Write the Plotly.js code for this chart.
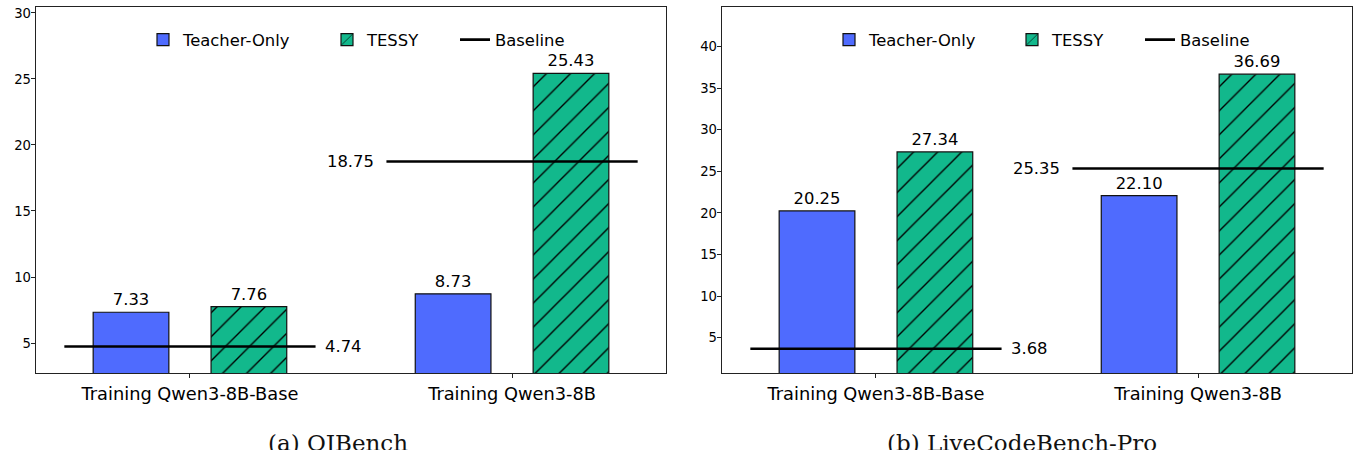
<!DOCTYPE html>
<html><head><meta charset="utf-8">
<script src="https://cdn.plot.ly/plotly-3.0.1.min.js"></script>
<style>html,body{margin:0;padding:0;background:#fff;} #chart{width:1353px;height:450px;}</style>
</head><body><div id="chart"></div>
<script>
// ---- data ----
const categories = ["Training Qwen3-8B-Base", "Training Qwen3-8B"];
const seriesNames = ["Teacher-Only", "TESSY", "Baseline"];
const panelTitles = ["(a) OJBench", "(b) LiveCodeBench-Pro"];
const ojTeacher = [7.33, 8.73];
const ojTessy = [7.76, 25.43];
const ojBaseline = [4.74, 18.75];
const lcbTeacher = [20.25, 22.10];
const lcbTessy = [27.34, 36.69];
const lcbBaseline = [3.68, 25.35];
const ojYTicks = [5, 10, 15, 20, 25, 30];
const lcbYTicks = [5, 10, 15, 20, 25, 30, 35, 40];

// ---- style / layout constants ----
const BLUE = '#4f6bfe', GREEN = '#12b88c';
const BAR_OFF = 0.183, BAR_W = 0.235, LINE_HALF = 0.39;
const W = 1353;
const FONT = 'DejaVu Sans, sans-serif';
const panels = [
  {teacher: ojTeacher, tessy: ojTessy, base: ojBaseline, ticks: ojYTicks, yr: [2.73, 30.45],
   dom: [36 / W, 666 / W], xa: 'x', ya: 'y', legTextX: [183, 367, 495], capX: 338},
  {teacher: lcbTeacher, tessy: lcbTessy, base: lcbBaseline, ticks: lcbYTicks, yr: [0.76, 44.77],
   dom: [722 / W, 1352 / W], xa: 'x2', ya: 'y2', legTextX: [869, 1052, 1180], capX: 1022}
];

const traces = [];
const annotations = [];
const layout = {
  width: 1353, height: 450,
  margin: {l: 0, r: 0, t: 7, b: 77},
  paper_bgcolor: '#fff', plot_bgcolor: '#fff',
  barmode: 'overlay',
  font: {family: FONT, color: '#000', size: 16},
  showlegend: true,
  annotations: annotations
};

panels.forEach((p, k) => {
  const xOf = off => categories.map((c, i) => i + off);
  const legName = s => { const n = k * 3 + s + 1; return n === 1 ? 'legend' : 'legend' + n; };
  traces.push({
    type: 'bar', name: seriesNames[0], x: xOf(-BAR_OFF), y: p.teacher, width: BAR_W,
    marker: {color: BLUE, line: {color: '#111', width: 1.2}},
    text: p.teacher.map(v => v.toFixed(2)), textposition: 'outside', cliponaxis: false,
    textfont: {family: FONT, size: 16.4, color: '#000'},
    xaxis: p.xa, yaxis: p.ya, legend: legName(0), hoverinfo: 'skip'
  });
  traces.push({
    type: 'bar', name: seriesNames[1], x: xOf(BAR_OFF), y: p.tessy, width: BAR_W,
    marker: {color: GREEN, line: {color: '#111', width: 1.2},
      pattern: {shape: '/', fgcolor: '#000', bgcolor: GREEN, fgopacity: 1, size: 17, solidity: 0.08, fillmode: 'overlay'}},
    text: p.tessy.map(v => v.toFixed(2)), textposition: 'outside', cliponaxis: false,
    textfont: {family: FONT, size: 16.4, color: '#000'},
    xaxis: p.xa, yaxis: p.ya, legend: legName(1), hoverinfo: 'skip'
  });
  const lx = [], ly = [];
  p.base.forEach((b, i) => { lx.push(i - LINE_HALF, i + LINE_HALF, null); ly.push(b, b, null); });
  traces.push({
    type: 'scatter', mode: 'lines', name: seriesNames[2], x: lx, y: ly,
    line: {color: '#000', width: 2.6}, xaxis: p.xa, yaxis: p.ya, legend: legName(2), hoverinfo: 'skip'
  });
  p.base.forEach((b, i) => {
    const right = i === 0;
    annotations.push({
      xref: p.xa, yref: p.ya, x: i + (right ? LINE_HALF : -LINE_HALF), y: b,
      text: b.toFixed(2), showarrow: false, xanchor: right ? 'left' : 'right', yanchor: 'middle',
      xshift: right ? 7 : -10, font: {family: FONT, size: 16.4, color: '#000'}
    });
  });
  annotations.push({
    xref: 'paper', yref: 'paper', x: p.capX / W, y: -0.19,
    text: panelTitles[k], showarrow: false, xanchor: 'center', yanchor: 'middle',
    font: {family: 'DejaVu Serif, serif', size: 23, color: '#111'}
  });
  const axn = k === 0 ? '' : '2';
  layout['xaxis' + axn] = {
    domain: p.dom, range: [-0.478, 1.478], anchor: p.ya,
    tickvals: categories.map((c, i) => i), ticktext: categories,
    ticks: 'outside', ticklen: 4, tickcolor: '#222', tickwidth: 1,
    showline: true, mirror: true, linecolor: '#222', linewidth: 1.4,
    showgrid: false, zeroline: false, fixedrange: true,
    tickfont: {family: FONT, size: 17.8, color: '#000'}
  };
  layout['yaxis' + axn] = {
    domain: [0, 1], range: p.yr, anchor: p.xa,
    tickvals: p.ticks, ticks: 'outside', ticklen: 4, tickcolor: '#222', tickwidth: 1,
    showline: true, mirror: true, linecolor: '#222', linewidth: 1.4,
    showgrid: false, zeroline: false, fixedrange: true, ticklabelstandoff: -3,
    tickfont: {family: FONT, size: 13.2, color: '#000'}
  };
  for (let s = 0; s < 3; s++) {
    layout[legName(s)] = {
      orientation: 'h', x: (p.legTextX[s] - 40) / W, xanchor: 'left',
      y: 0.91, yanchor: 'middle', bgcolor: 'rgba(0,0,0,0)', borderwidth: 0,
      font: {family: FONT, size: 16.4, color: '#000'}
    };
  }
});

Plotly.newPlot('chart', traces, layout, {displayModeBar: false, staticPlot: true});
</script>
</body></html>
